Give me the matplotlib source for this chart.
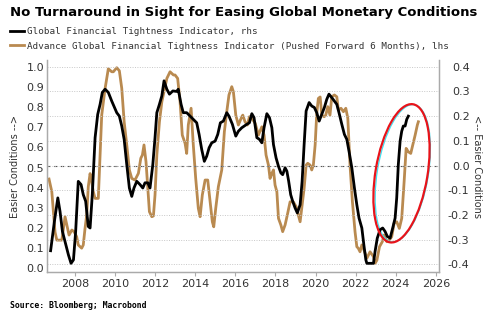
import numpy as np
import matplotlib
matplotlib.use('Agg')
from matplotlib import pyplot as plt
from matplotlib.patches import Ellipse
from matplotlib.transforms import IdentityTransform

# Advance Global Financial Tightness Indicator (pushed forward 6 months), lhs
adv_years = [2006.70, 2006.84, 2007.00, 2007.09, 2007.34, 2007.42, 2007.50, 2007.59, 2007.70, 2007.84,
             2007.95, 2008.08, 2008.16, 2008.33, 2008.41, 2008.50, 2008.58, 2008.66, 2008.75, 2008.83,
             2008.91, 2009.00, 2009.16, 2009.25, 2009.33, 2009.50, 2009.66, 2009.83, 2009.91, 2010.08,
             2010.21, 2010.33, 2010.45, 2010.58, 2010.71, 2010.83, 2010.99, 2011.16, 2011.28, 2011.36,
             2011.44, 2011.54, 2011.63, 2011.71, 2011.83, 2011.91, 2011.99, 2012.08, 2012.21, 2012.33,
             2012.44, 2012.58, 2012.74, 2012.91, 2012.99, 2013.12, 2013.24, 2013.35, 2013.49, 2013.57,
             2013.65, 2013.79, 2013.90, 2014.02, 2014.15, 2014.24, 2014.35, 2014.49, 2014.62, 2014.74,
             2014.85, 2014.92, 2015.02, 2015.15, 2015.32, 2015.45, 2015.57, 2015.68, 2015.82, 2015.90,
             2016.02, 2016.15, 2016.32, 2016.37, 2016.48, 2016.60, 2016.70, 2016.82, 2016.99, 2017.15,
             2017.32, 2017.43, 2017.53, 2017.65, 2017.73, 2017.82, 2017.90, 2017.98, 2018.07, 2018.15,
             2018.27, 2018.36, 2018.48, 2018.59, 2018.73, 2018.89, 2019.03, 2019.14, 2019.23, 2019.31,
             2019.43, 2019.53, 2019.61, 2019.73, 2019.81, 2019.89, 2019.98, 2020.06, 2020.14, 2020.23,
             2020.31, 2020.43, 2020.51, 2020.61, 2020.72, 2020.81, 2020.94, 2021.06, 2021.14, 2021.27,
             2021.39, 2021.51, 2021.61, 2021.72, 2021.84, 2021.97, 2022.06, 2022.13, 2022.22, 2022.31,
             2022.42, 2022.56, 2022.72, 2022.89, 2022.97, 2023.06, 2023.19, 2023.33, 2023.42, 2023.56,
             2023.68, 2023.80, 2023.92, 2024.05, 2024.18, 2024.30, 2024.42, 2024.52, 2024.63, 2024.75,
             2024.85, 2024.97, 2025.08, 2025.13]
adv_vals = [.443, .38, .18, .14, .14, .198, .256, .215, .165, .19,
            .182, .157, .116, .10, .116, .20, .264, .405, .47, .43,
            .38, .347, .347, .56, .76, .893, .99, .975, .975, .995,
            .98, .893, .727, .612, .488, .446, .438, .471, .546, .562,
            .612, .529, .397, .281, .256, .26, .364, .562, .727, .826,
            .876, .942, .975, .959, .959, .942, .826, .661, .62, .57,
            .711, .794, .612, .446, .298, .256, .364, .438, .438, .33,
            .231, .206, .298, .405, .488, .678, .777, .86, .901, .876,
            .76, .711, .752, .76, .727, .711, .752, .744, .719, .661,
            .702, .661, .562, .512, .446, .471, .488, .413, .38, .248,
            .215, .182, .215, .264, .33, .33, .306, .264, .231, .298,
            .397, .512, .521, .512, .488, .512, .612, .769, .843, .85,
            .76, .752, .76, .802, .76, .851, .86, .851, .785, .794,
            .777, .794, .744, .512, .33, .182, .107, .10, .082, .116,
            .09, .05, .082, .058, .025, .04, .107, .132, .165, .132,
            .14, .157, .223, .231, .198, .248, .43, .595, .578, .57,
            .612, .661, .711, .727]

# Global Financial Tightness Indicator, rhs
gfti_years = [2006.78, 2006.97, 2007.14, 2007.25, 2007.37, 2007.50, 2007.67, 2007.80, 2007.92, 2008.03,
              2008.16, 2008.30, 2008.41, 2008.53, 2008.66, 2008.75, 2008.86, 2009.00, 2009.13, 2009.25,
              2009.36, 2009.50, 2009.66, 2009.83, 2010.08, 2010.21, 2010.33, 2010.45, 2010.58, 2010.71,
              2010.83, 2010.94, 2011.08, 2011.24, 2011.38, 2011.49, 2011.63, 2011.74, 2011.88, 2011.99,
              2012.08, 2012.21, 2012.33, 2012.44, 2012.58, 2012.71, 2012.88, 2013.07, 2013.15, 2013.29,
              2013.40, 2013.57, 2013.74, 2013.90, 2014.07, 2014.19, 2014.32, 2014.45, 2014.57, 2014.69,
              2014.82, 2014.99, 2015.12, 2015.25, 2015.40, 2015.57, 2015.68, 2015.85, 2016.02, 2016.15,
              2016.32, 2016.57, 2016.70, 2016.82, 2016.93, 2017.07, 2017.20, 2017.32, 2017.43, 2017.57,
              2017.70, 2017.82, 2017.90, 2018.03, 2018.15, 2018.27, 2018.36, 2018.48, 2018.57, 2018.66,
              2018.76, 2018.86, 2018.98, 2019.09, 2019.23, 2019.33, 2019.43, 2019.53, 2019.68, 2019.81,
              2019.94, 2020.06, 2020.18, 2020.31, 2020.44, 2020.56, 2020.67, 2020.81, 2020.94, 2021.06,
              2021.17, 2021.31, 2021.44, 2021.56, 2021.67, 2021.81, 2021.94, 2022.06, 2022.17, 2022.31,
              2022.41, 2022.51, 2022.56, 2022.89, 2022.97, 2023.08, 2023.22, 2023.35, 2023.47, 2023.58,
              2023.72, 2023.85, 2023.97, 2024.05, 2024.13, 2024.22, 2024.30, 2024.38, 2024.47, 2024.55,
              2024.63]
gfti_vals = [-.345, -.226, -.131, -.186, -.267, -.308, -.362, -.396, -.382, -.267,
             -.064, -.077, -.118, -.145, -.247, -.253, -.118, .113, .207, .248,
             .296, .309, .296, .261, .214, .20, .16, .106, .004, -.091,
             -.125, -.091, -.064, -.077, -.091, -.07, -.07, -.091, .004, .113,
             .214, .248, .282, .343, .309, .289, .302, .30, .309, .248,
             .214, .214, .20, .187, .173, .126, .065, .017, .038, .072,
             .092, .099, .126, .173, .18, .214, .20, .167, .119, .139,
             .153, .167, .173, .21, .194, .113, .106, .092, .153, .21,
             .194, .153, .085, .031, -.003, -.03, -.037, -.009, -.023, -.064,
             -.118, -.145, -.172, -.192, -.159, -.064, .085, .221, .255, .241,
             .235, .214, .18, .207, .235, .268, .289, .275, .261, .248,
             .214, .167, .126, .106, .058, -.009, -.091, -.159, -.213, -.253,
             -.321, -.382, -.396, -.396, -.348, -.294, -.26, -.253, -.267, -.287,
             -.294, -.253, -.213, -.131, .004, .099, .139, .16, .16, .187,
             .20]

left_ticks = [0.0, 0.1, 0.2, 0.3, 0.4, 0.5, 0.6, 0.7, 0.8, 0.9, 1.0]
right_ticks = [-0.4, -0.3, -0.2, -0.1, 0.0, 0.1, 0.2, 0.3, 0.4]
year_ticks = [2008, 2010, 2012, 2014, 2016, 2018, 2020, 2022, 2024, 2026]

GOLD = '#B98A50'
TICKC = '#333333'
MONO = 'DejaVu Sans Mono'

fig = plt.figure(figsize=(5, 3.23), dpi=100)
ax = fig.add_axes([0.094, 0.158, 0.784, 0.656])
ax2 = ax.twinx()

l_adv, = ax.plot(adv_years, adv_vals, color=GOLD, lw=2, solid_joinstyle='round')
ax2.axhline(0, color='#555555', lw=0.8, ls=(0, (3, 3)), zorder=1)
l_gfti, = ax2.plot(gfti_years, gfti_vals, color='black', lw=2, solid_joinstyle='round', zorder=3)

ax.set_xlim(2006.6, 2026.16)
ax.set_ylim(-0.018, 1.033)
ax2.set_ylim(-0.431, 0.427)
ax.set_xticks(year_ticks)
ax.set_yticks(left_ticks)
ax.set_yticklabels(['%.1f' % v for v in left_ticks])
ax2.set_yticks(right_ticks)
ax2.set_yticklabels(['%.1f' % v for v in right_ticks])
ax2.grid(axis='y', color='#c8c8c8', lw=0.7, ls=(0, (1, 1.5)))

for a in (ax, ax2):
    for s in a.spines.values():
        s.set_color('#aaaaaa')
        s.set_linewidth(0.9)
    a.spines['top'].set_visible(False)
ax.tick_params(axis='x', length=3, color='#aaaaaa', labelsize=8, labelcolor=TICKC, pad=2)
ax.tick_params(axis='y', length=0, labelsize=8, labelcolor=TICKC, pad=2)
ax2.tick_params(axis='y', length=0, labelsize=8, labelcolor=TICKC, pad=22)
for lab in ax2.get_yticklabels():
    lab.set_horizontalalignment('right')

fig.text(0.03, 0.486, 'Easier Conditions -->', rotation=90, ha='center', va='center',
         fontsize=7, color=TICKC)
fig.text(0.955, 0.486, '<-- Easier Conditions', rotation=270, ha='center', va='center',
         fontsize=7, color=TICKC)

fig.text(0.02, 0.96, 'No Turnaround in Sight for Easing Global Monetary Conditions',
         fontsize=9.5, fontweight='bold', ha='left', va='center', color='black')
fig.legend([l_gfti, l_adv],
           ['Global Financial Tightness Indicator, rhs',
            'Advance Global Financial Tightness Indicator (Pushed Forward 6 Months), lhs'],
           loc='upper left', bbox_to_anchor=(0.02, 0.915), frameon=False,
           prop={'family': MONO, 'size': 6.7}, handlelength=1.5, handletextpad=0.3,
           borderpad=0, borderaxespad=0, labelspacing=0.55, labelcolor=TICKC)
fig.text(0.02, 0.055, 'Source: Bloomberg; Macrobond', fontsize=5.9, family=MONO,
         fontweight='bold', ha='left', va='center', color='black')

# highlight of the recent rebound
tr = IdentityTransform()
ax.add_patch(Ellipse((402.8, 149.7), 51, 139, angle=-9.5, transform=tr, fill=False,
                     edgecolor='#40e0f0', lw=0.9, clip_on=False, zorder=4))
ax2.add_patch(Ellipse((401.5, 149.7), 52, 140, angle=-9.5, transform=tr, fill=False,
                      edgecolor='#e8131a', lw=1.6, clip_on=False, zorder=5))

fig.savefig('out.png', dpi=100)
